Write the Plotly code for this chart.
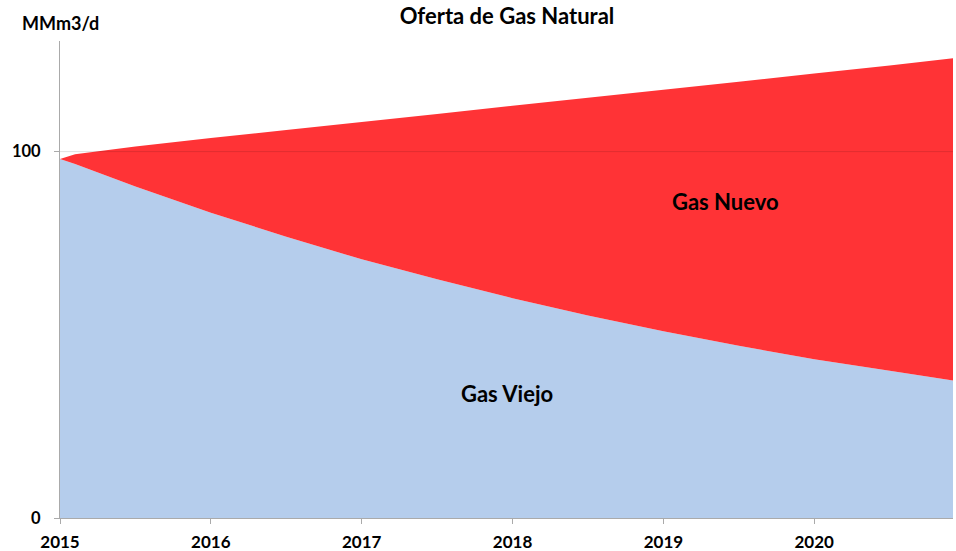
import plotly.graph_objects as go

# Time axis (decimal years)
years = [2015.0, 2015.1, 2015.5, 2016.0, 2016.5, 2017.0, 2017.5, 2018.0,
         2018.5, 2019.0, 2019.5, 2020.0, 2020.5, 2020.92]
# Existing (old) gas production, MMm3/d
gas_viejo = [98.0, 96.6, 90.5, 83.3, 76.8, 70.6, 65.2, 60.0,
             55.3, 51.0, 47.0, 43.3, 40.2, 37.5]
total = [98.0, 99.3, 101.4, 103.7, 105.9, 108.1, 110.3, 112.5,
         114.7, 116.9, 119.1, 121.3, 123.5, 125.5]
gas_nuevo = [round(t - v, 2) for t, v in zip(total, gas_viejo)]

tick_years = [2015, 2016, 2017, 2018, 2019, 2020]
y_ticks = [0, 100]

FONT = "Lato"
AXIS_GRAY = "rgb(170,170,170)"

fig = go.Figure()
fig.add_trace(go.Scatter(
    x=years, y=gas_viejo, name="Gas Viejo", stackgroup="one", mode="none",
    fillcolor="rgb(181,205,236)", hoverinfo="skip"))
fig.add_trace(go.Scatter(
    x=years, y=gas_nuevo, name="Gas Nuevo", stackgroup="one", mode="none",
    fillcolor="rgb(255,51,54)", hoverinfo="skip"))

# gridline at 100 drawn over the fills
fig.add_shape(type="line", xref="paper", x0=0, x1=1, yref="y", y0=100, y1=100,
              line=dict(color="rgba(0,0,0,0.12)", width=1), layer="above")

fig.update_layout(
    width=956, height=551,
    margin=dict(l=60, r=3, t=41, b=33, autoexpand=False),
    paper_bgcolor="white", plot_bgcolor="white",
    showlegend=False,
    font=dict(family=FONT, color="black"),
    title=dict(text="<b>Oferta de Gas Natural</b>", x=507 / 956, xanchor="center",
               y=1 - 16 / 551, yanchor="middle", yref="container",
               font=dict(family=FONT, size=22, color="black")),
    xaxis=dict(range=[2015, 2020.92], tickmode="array", tickvals=tick_years,
               ticktext=[f"<b>{y}</b>" for y in tick_years],
               showgrid=False, zeroline=False, showline=True, automargin=False,
               linecolor=AXIS_GRAY, linewidth=1,
               ticks="outside", ticklen=5, tickcolor=AXIS_GRAY,
               ticklabelstandoff=4,
               tickfont=dict(family=FONT, size=17, color="black")),
    yaxis=dict(range=[0, 130.2], tickmode="array", tickvals=y_ticks,
               ticktext=[f"<b>{v}</b>" for v in y_ticks],
               showgrid=False, zeroline=False, showline=True, automargin=False,
               linecolor=AXIS_GRAY, linewidth=1,
               ticks="outside", ticklen=5, tickcolor=AXIS_GRAY,
               ticklabelstandoff=10,
               tickfont=dict(family=FONT, size=16.5, color="black")),
    annotations=[
        dict(text="<b>MMm3/d</b>", xref="paper", yref="paper", x=-0.0448, y=1.0377,
             xanchor="left", yanchor="middle", showarrow=False,
             font=dict(family=FONT, size=18, color="black")),
        dict(text="<b>Gas Nuevo</b>", x=2019.41, y=86.5, xref="x", yref="y",
             showarrow=False, font=dict(family=FONT, size=22, color="black")),
        dict(text="<b>Gas Viejo</b>", x=2017.96, y=33.9, xref="x", yref="y",
             showarrow=False, font=dict(family=FONT, size=22, color="black")),
    ],
)

# remove the browser's default 8px page margin so the figure fills the window
fig.write_html("out.html",
               config={"displayModeBar": False},
               post_script="document.body.style.margin='0';"
                           "document.body.style.overflow='hidden';")
